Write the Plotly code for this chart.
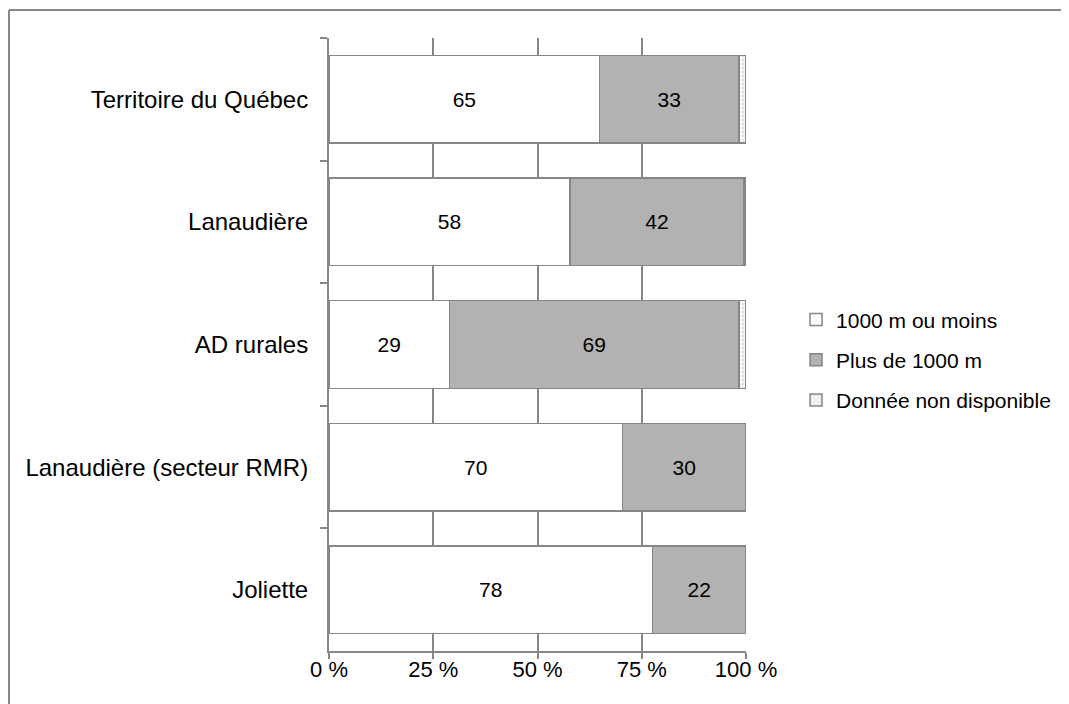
import plotly.graph_objects as go

categories = ["Territoire du Québec", "Lanaudière", "AD rurales",
              "Lanaudière (secteur RMR)", "Joliette"]
moins_1000 = [64.9, 57.8, 28.9, 70.4, 77.6]
plus_1000 = [33.4, 41.7, 69.4, 29.6, 22.4]
non_dispo = [1.7, 0.5, 1.7, 0.0, 0.0]
series_names = ["1000 m ou moins", "Plus de 1000 m", "Donnée non disponible"]
tick_vals = [0, 25, 50, 75, 100]
tick_text = ["0 %", "25 %", "50 %", "75 %", "100 %"]

FONT = "Liberation Sans, Arial, sans-serif"
GRAY = "#868686"

# figure is placed 8px into the page (default body margin)
W, H = 1061, 696
L, R, T, B = 321, 1061 - 738, 30, 696 - 643
PW, PH = W - L - R, H - T - B

fig = go.Figure()
fig.add_trace(go.Bar(
    y=categories, x=moins_1000, orientation="h", name=series_names[0],
    legendgroup="a",
    marker=dict(color="white", line=dict(color=GRAY, width=1.5)),
    text=moins_1000, texttemplate="%{x:.0f}", textposition="inside",
    insidetextanchor="middle", constraintext="none",
    textfont=dict(family=FONT, size=21, color="black"),
    hoverinfo="skip",
))
fig.add_trace(go.Bar(
    y=categories, x=plus_1000, orientation="h", name=series_names[1],
    legendgroup="b",
    marker=dict(color="#b2b2b2", line=dict(color=GRAY, width=1.5)),
    text=plus_1000, texttemplate="%{x:.0f}", textposition="inside",
    insidetextanchor="middle", constraintext="none",
    textfont=dict(family=FONT, size=21, color="black"),
    hoverinfo="skip",
))
fig.add_trace(go.Bar(
    y=categories, x=non_dispo, orientation="h", name=series_names[2],
    legendgroup="c",
    marker=dict(color="white", line=dict(color=GRAY, width=1.5),
                pattern=dict(shape=".", fgcolor="#c4c4c4", bgcolor="white",
                             size=4, solidity=0.5)),
    textposition="none",
    hoverinfo="skip",
))

bx = (1 - L) / PW
by = 1 + (T - 2) / PH

fig.update_layout(
    barmode="stack",
    bargap=0.286,
    width=W, height=H,
    margin=dict(l=L, r=R, t=T, b=B, autoexpand=False),
    paper_bgcolor="white", plot_bgcolor="white",
    font=dict(family=FONT, size=21, color="black"),
    showlegend=True,
    legend=dict(x=1.12, xanchor="left", y=0.475, yanchor="middle",
                traceorder="grouped", tracegroupgap=10,
                font=dict(family=FONT, size=21, color="black"),
                itemwidth=30),
    xaxis=dict(range=[0, 100], tickvals=tick_vals, ticktext=tick_text,
               showgrid=True, gridcolor=GRAY, gridwidth=1.5,
               showline=True, linecolor=GRAY, linewidth=2,
               ticks="outside", ticklen=6, tickcolor=GRAY, tickwidth=1.5,
               tickfont=dict(family=FONT, size=22, color="black"),
               ticklabelstandoff=-8, automargin=False,
               zeroline=False, fixedrange=True),
    yaxis=dict(categoryorder="array", categoryarray=categories,
               autorange="reversed",
               showline=True, linecolor=GRAY, linewidth=2,
               ticks="outside", tickson="boundaries", ticklen=7,
               tickcolor=GRAY, tickwidth=1.5,
               showgrid=False, automargin=False,
               tickfont=dict(family=FONT, size=24, color="black"),
               ticklabelstandoff=14, fixedrange=True),
    shapes=[
        dict(type="line", xref="paper", yref="paper",
             x0=bx, x1=2.0, y0=by, y1=by,
             line=dict(color=GRAY, width=2)),
        dict(type="line", xref="paper", yref="paper",
             x0=bx, x1=bx, y0=by, y1=-1.0,
             line=dict(color=GRAY, width=2)),
    ],
)

fig.write_html("out.html")
